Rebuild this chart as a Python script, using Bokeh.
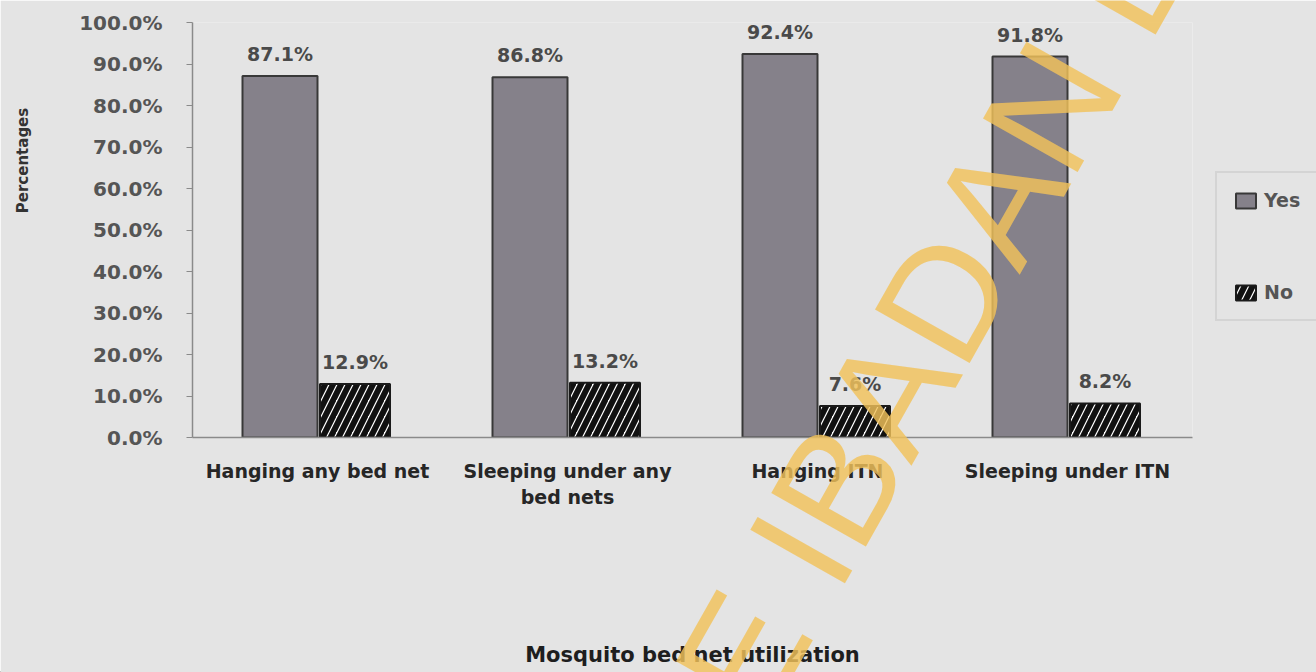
import math

from bokeh.core.properties import value
from bokeh.embed import file_html
from bokeh.models import (ColumnDataSource, FactorRange, LabelSet, Legend, LegendItem,
                          PrintfTickFormatter, Range1d, SingleIntervalTicker)
from bokeh.plotting import figure
from bokeh.resources import INLINE
from bokeh.transform import dodge

# Mosquito bed net utilization, percent of respondents
categories = ["Hanging any bed net", "Sleeping under any\nbed nets", "Hanging ITN", "Sleeping under ITN"]
yes_pct = [87.1, 86.8, 92.4, 91.8]
no_pct = [12.9, 13.2, 7.6, 8.2]
series = ["Yes", "No"]

W, H = 1316, 672
BG = "#e4e4e4"
FONT = "DejaVu Sans"

YES_STYLE = dict(fill_color="#85818a", line_color="#383838", line_width=2)
NO_STYLE = dict(fill_color="white", line_color="#1a1a1a", line_width=2,
                hatch_pattern="/", hatch_color="#111111", hatch_weight=6, hatch_scale=16)

src = ColumnDataSource(dict(
    cat=categories,
    yes=yes_pct,
    no=no_pct,
    yes_txt=[f"{v:.1f}%" for v in yes_pct],
    no_txt=[f"{v:.1f}%" for v in no_pct],
))

p = figure(
    x_range=FactorRange(factors=categories, range_padding=0),
    y_range=Range1d(0, 100),
    width=W, height=H,
    min_border_left=192, min_border_right=124,
    min_border_top=22, min_border_bottom=235,
    output_backend="svg", toolbar_location=None,
)
p.background_fill_color = BG
p.border_fill_color = BG
p.outline_line_color = None
p.grid.visible = False

p.vbar(x=dodge("cat", -0.15, range=p.x_range), top="yes", width=0.3, source=src, **YES_STYLE)
p.vbar(x=dodge("cat", 0.15, range=p.x_range), top="no", width=0.28, source=src, **NO_STYLE)

for col, off in (("yes", -0.15), ("no", 0.15)):
    p.add_layout(LabelSet(
        x=dodge("cat", off, range=p.x_range), y=col, text=f"{col}_txt", source=src,
        y_offset=22, text_align="center", text_baseline="middle",
        text_font=value(FONT), text_font_style="bold", text_font_size=value("19px"),
        text_color="#4a4a4a",
    ))

# y axis
ya = p.yaxis[0]
ya.ticker = SingleIntervalTicker(interval=10, num_minor_ticks=0)
ya.formatter = PrintfTickFormatter(format="%.1f%%")
ya.axis_line_color = "#8a8a8a"
ya.axis_line_width = 1.5
ya.major_tick_line_color = "#8a8a8a"
ya.major_tick_out = 6
ya.major_tick_in = 0
ya.minor_tick_line_color = None
ya.major_label_standoff = 24
ya.major_label_text_font = FONT
ya.major_label_text_font_style = "bold"
ya.major_label_text_font_size = "20px"
ya.major_label_text_color = "#555555"

# x axis
xa = p.xaxis[0]
xa.axis_line_color = "#8a8a8a"
xa.axis_line_width = 1.5
xa.major_tick_line_color = None
xa.minor_tick_line_color = None
xa.major_label_standoff = 16
xa.major_label_text_font = FONT
xa.major_label_text_font_style = "bold"
xa.major_label_text_font_size = "19px"
xa.major_label_text_color = "#262626"
xa.axis_label = "Mosquito bed net utilization"
xa.axis_label_standoff = 132
xa.axis_label_text_font = FONT
xa.axis_label_text_font_style = "bold"
xa.axis_label_text_font_size = "21px"
xa.axis_label_text_color = "#1e1e1e"

# transparent sheet laid over the chart: y-axis title, legend and the library stamp
ov = figure(
    width=W, height=H, x_range=Range1d(0, W), y_range=Range1d(0, H),
    min_border=0, x_axis_location=None, y_axis_location=None,
    output_backend="svg", toolbar_location=None,
)
ov.grid.visible = False
ov.outline_line_color = None
ov.background_fill_alpha = 0
ov.border_fill_alpha = 0
ov.styles = {"position": "absolute", "top": "0px", "left": "0px"}

# legend swatches: zero-height bars parked left of the sheet, only their styles show in the key
key_yes = ov.vbar(x=[-50], top=[0], width=1, **YES_STYLE)
key_no = ov.vbar(x=[-50], top=[0], width=1, **NO_STYLE)
legend = Legend(
    items=[LegendItem(label=series[0], renderers=[key_yes]),
           LegendItem(label=series[1], renderers=[key_no])],
    location=(1215, H - 321),
    orientation="vertical",
    padding=16, spacing=70, label_standoff=6, margin=0,
    glyph_width=25, glyph_height=19, label_height=19,
    label_text_font=FONT, label_text_font_style="bold", label_text_font_size="19px",
    label_text_color="#555555",
    border_line_color="#c4c4c4", border_line_width=2,
    background_fill_color=BG, background_fill_alpha=1,
)
ov.add_layout(legend)

ov.text(x=[22], y=[H - 160], text=["Percentages"], angle=math.pi / 2,
        text_align="center", text_baseline="middle",
        text_font=value(FONT), text_font_style="bold", text_font_size=value("15px"),
        text_color="#333333")

ov.text(x=[930], y=[H - 320], text=["E IBADAN L"], angle=math.radians(60.5),
        text_align="center", text_baseline="alphabetic",
        text_font=value("Liberation Sans"), text_font_size=value("158px"),
        text_color="#f2c25a", text_alpha=0.82)

open("out.html", "w").write(file_html([p, ov], INLINE))
